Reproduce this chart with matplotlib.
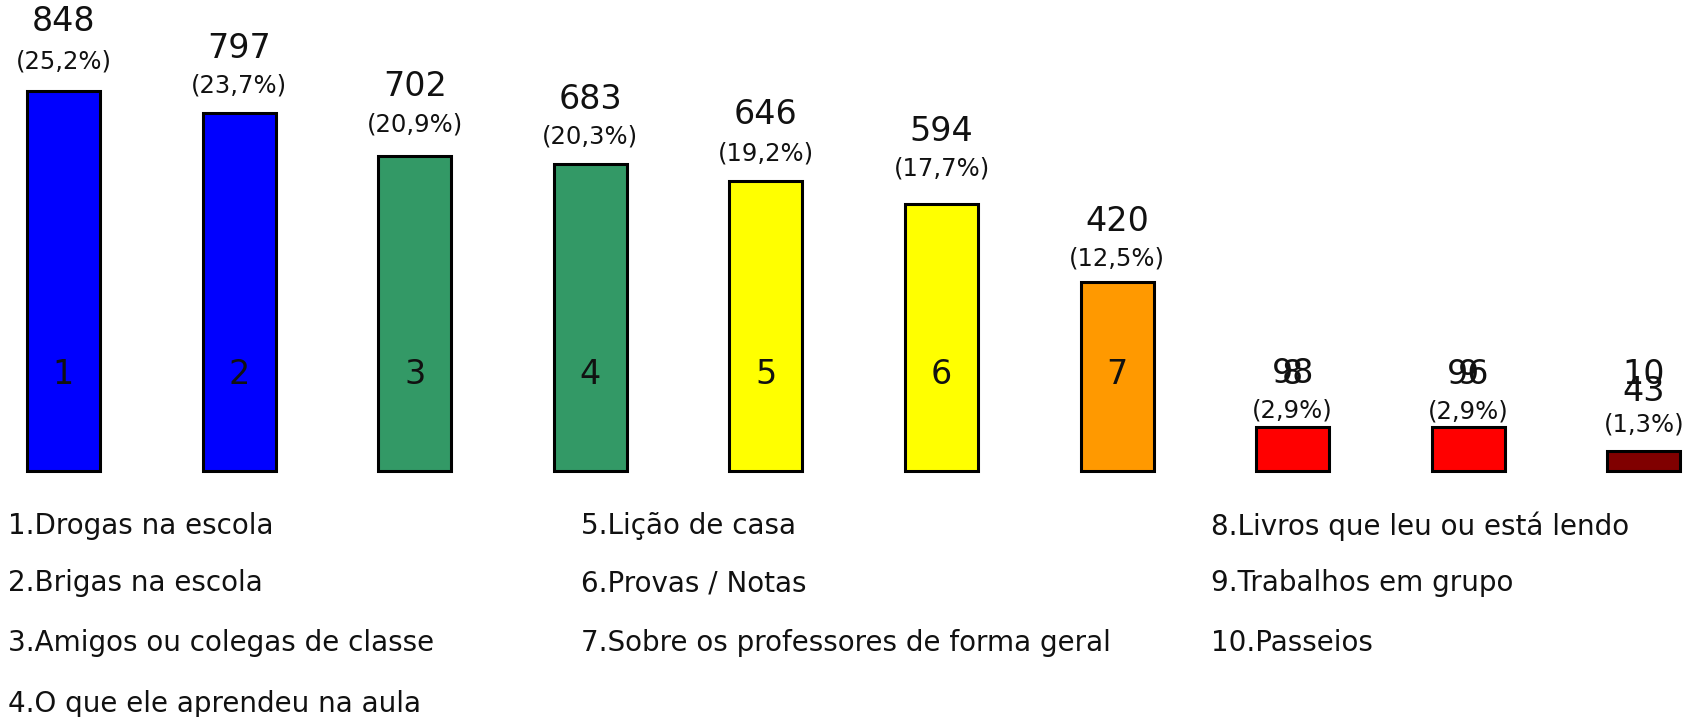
import matplotlib
matplotlib.use("Agg")
import matplotlib.pyplot as plt
import matplotlib.transforms as mtransforms
import numpy as np

plt.rcParams['font.family'] = ['DejaVu Sans']

bar_ids = ['1', '2', '3', '4', '5', '6', '7', '8', '9', '10']
counts = [848, 797, 702, 683, 646, 594, 420, 98, 96, 43]
percents = ['(25,2%)', '(23,7%)', '(20,9%)', '(20,3%)', '(19,2%)', '(17,7%)',
            '(12,5%)', '(2,9%)', '(2,9%)', '(1,3%)']
colors = ['#0000ff', '#0000ff', '#339966', '#339966', '#ffff00', '#ffff00',
          '#ff9900', '#ff0000', '#ff0000', '#800000']

legend_col1 = ['1.Drogas na escola', '2.Brigas na escola',
               '3.Amigos ou colegas de classe', '4.O que ele aprendeu na aula']
legend_col2 = ['5.Lição de casa', '6.Provas / Notas',
               '7.Sobre os professores de forma geral']
legend_col3 = ['8.Livros que leu ou está lendo', '9.Trabalhos em grupo',
               '10.Passeios']

# label offsets above bar tops, in pixels (as placed in the original)
value_off = [69, 65, 69, 65, 67, 73, 61, 53, 53, 60]
pct_off = [29, 28, 31, 28, 28, 36, 24, 16, 16, 27]

W, H = 1688, 717
fig = plt.figure(figsize=(W / 100, H / 100), dpi=100)
ax = fig.add_axes([0, 0, 1, 1])
ax.axis('off')

x = np.arange(len(counts))
spacing = 175.6
ax.set_xlim(-63.5 / spacing, (W - 63.5) / spacing)
upp = 848 / 380.0
base_from_bottom = H - 470.5
ax.set_ylim(-base_from_bottom * upp, (H - base_from_bottom) * upp)

ax.bar(x, counts, width=0.416, color=colors, edgecolor='black', linewidth=2.2)

px2pt = 72 / 100
for xi, c, p, vo, po in zip(x, counts, percents, value_off, pct_off):
    ax.annotate(str(c), (xi, c), xytext=(0, vo * px2pt), textcoords='offset points',
                ha='center', va='center', fontsize=24, color='#111111')
    ax.annotate(p, (xi, c), xytext=(0, po * px2pt), textcoords='offset points',
                ha='center', va='center', fontsize=17.5, color='#111111')

trans = mtransforms.blended_transform_factory(ax.transData, ax.transAxes)
for xi, b in zip(x, bar_ids):
    ax.text(xi, 1 - 374 / H, b, transform=trans, ha='center', va='center',
            fontsize=24, color='#111111')

row_y = [526, 583, 643, 704]
for col, xpx in [(legend_col1, 8), (legend_col2, 581), (legend_col3, 1211)]:
    for i, t in enumerate(col):
        fig.text(xpx / W, 1 - row_y[i] / H, t, ha='left', va='center',
                 fontsize=20, color='#111111')

fig.savefig('out.png', dpi=100)
